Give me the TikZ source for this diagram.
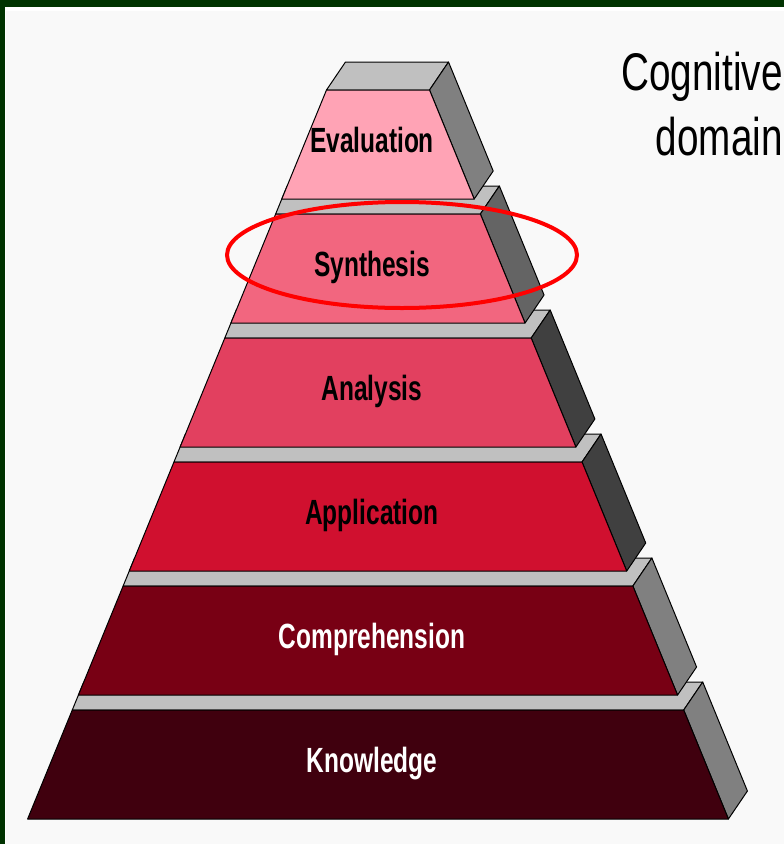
\documentclass[tikz,border=0pt]{standalone}
\usepackage{fontspec}
\usepackage{xcolor}
\setmainfont{Liberation Sans}
\newfontfamily\levelfont[FakeStretch=0.70]{Liberation Sans}
\newfontfamily\titlefont[FakeStretch=0.73]{Liberation Sans}
\usetikzlibrary{calc}

\definecolor{evalfill}{HTML}{FFA3B5}
\definecolor{synfill}{HTML}{F2667F}
\definecolor{anafill}{HTML}{E2405F}
\definecolor{appfill}{HTML}{D0102F}
\definecolor{compfill}{HTML}{780014}
\definecolor{knowfill}{HTML}{40000E}
\definecolor{topgrey}{HTML}{C0C0C0}
\definecolor{sidelight}{HTML}{808080}
\definecolor{sidemid}{HTML}{646464}
\definecolor{sidedark}{HTML}{404040}
\definecolor{frame}{HTML}{003300}
\definecolor{paper}{HTML}{F9F9F9}

\begin{document}
\begin{tikzpicture}[x=1pt, y=-1pt,
    face/.style={draw=black, line width=1pt, line join=round},
    level label/.style={anchor=base, inner sep=0pt, font=\levelfont\bfseries\fontsize{35}{40}\selectfont},
    title/.style={anchor=north east, inner sep=0pt, align=right, font=\titlefont\fontsize{53}{65}\selectfont},
    highlight/.style={draw=red, line width=4pt}]
    \useasboundingbox (0,0) rectangle (784,844);
    % background and frame
    \fill[paper] (0,0) rectangle (784,844);
    \fill[white] (0,0) rectangle (784,11);
    \fill[white] (0,0) rectangle (6,844);
    \fill[frame] (0,0) rectangle (784,7);
    \fill[frame] (0,0) rectangle (5,844);

    % pyramid, from the bottom up
    \foreach \t/\fc/\sc/\lab/\tc in {710/knowfill/sidelight/Knowledge/white,
                                     586/compfill/sidelight/Comprehension/white,
                                     462/appfill/sidedark/Application/black,
                                     338/anafill/sidedark/Analysis/black,
                                     214/synfill/sidemid/Synthesis/black,
                                     90/evalfill/sidelight/Evaluation/black} {
        \pgfmathsetmacro\b{\t+109}
        \pgfmathsetmacro\xlt{28+0.41*(818-\t)}
        \pgfmathsetmacro\xlb{28+0.41*(818-\b)}
        \pgfmathsetmacro\xlu{28+0.41*(846-\t)}
        \pgfmathsetmacro\xrt{756-\xlt}
        \pgfmathsetmacro\xrb{756-\xlb}
        \ifnum\t=90 \pgfmathsetmacro\xlu{\xlt+19}\fi
        \draw[face, fill=topgrey] (\xlt,\t) -- (\xrt,\t) -- (\xrt+19,\t-28) -- (\xlu,\t-28) -- cycle;
        \draw[face, fill=\sc] (\xrt,\t) -- (\xrb,\b) -- (\xrb+19,\b-28) -- (\xrt+19,\t-28) -- cycle;
        \draw[face, fill=\fc] (\xlt,\t) -- (\xrt,\t) -- (\xrb,\b) -- (\xlb,\b) -- cycle;
        \node[level label, text=\tc] (\lab) at (372,\t+62) {\lab};
    }

    \draw[highlight] (402,255) ellipse [x radius=175pt, y radius=53pt];

    \node[title] (domain) at (783,52) {Cognitive\\domain};
\end{tikzpicture}
\end{document}
